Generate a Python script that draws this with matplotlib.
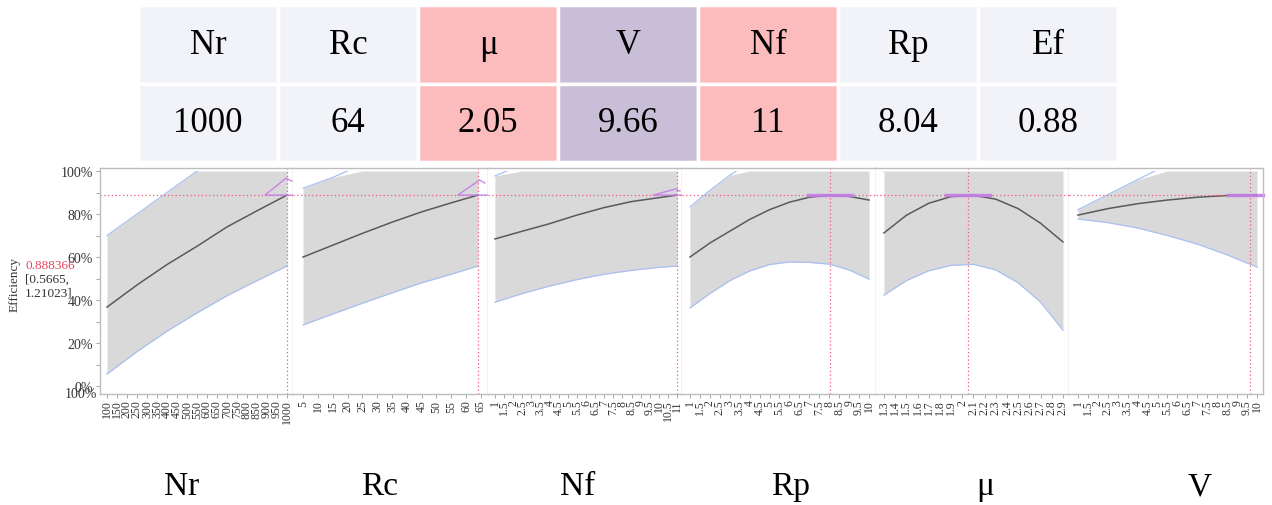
import numpy as np
import matplotlib
matplotlib.use('Agg')
import matplotlib.pyplot as plt
from matplotlib.patches import Rectangle

# table values
names = ['Nr', 'Rc', 'μ', 'V', 'Nf', 'Rp', 'Ef']
values = ['1000', '64', '2.05', '9.66', '11', '8.04', '0.88']
col_colors = ['#f2f3f9', '#f2f3f9', '#fcbcbe', '#c9bed7', '#fcbcbe', '#f2f3f9', '#f2f3f9']

# profiler data: factor levels, predicted efficiency and confidence band
nr_x = [100, 250, 400, 550, 700, 850, 1000]
nr_mean = [0.367, 0.47, 0.565, 0.65, 0.74, 0.815, 0.888]
nr_low = [0.056, 0.16, 0.255, 0.34, 0.42, 0.49, 0.558]
nr_up = [0.70, 0.80, 0.90, 1.0, 1.08, 1.15, 1.21]

rc_x = [5, 15, 25, 35, 45, 55, 64]
rc_mean = [0.60, 0.655, 0.71, 0.762, 0.81, 0.852, 0.888]
rc_low = [0.284, 0.335, 0.385, 0.433, 0.48, 0.52, 0.558]
rc_up = [0.92, 0.97, 1.03, 1.09, 1.14, 1.19, 1.22]

nf_x = [1, 2.5, 4, 5.5, 7, 8.5, 10, 11]
nf_mean = [0.684, 0.72, 0.755, 0.795, 0.83, 0.858, 0.876, 0.888]
nf_low = [0.39, 0.43, 0.465, 0.495, 0.52, 0.538, 0.552, 0.558]
nf_up = [0.977, 1.03, 1.07, 1.11, 1.15, 1.18, 1.20, 1.22]

rp_x = [1, 2, 3, 4, 5, 6, 7, 8, 9, 10]
rp_mean = [0.60, 0.665, 0.72, 0.775, 0.82, 0.855, 0.878, 0.888, 0.882, 0.865]
rp_low = [0.363, 0.43, 0.49, 0.535, 0.565, 0.577, 0.575, 0.567, 0.54, 0.497]
rp_up = [0.833, 0.91, 0.98, 1.04, 1.09, 1.13, 1.17, 1.21, 1.23, 1.24]

mu_x = [1.3, 1.5, 1.7, 1.9, 2.1, 2.3, 2.5, 2.7, 2.9]
mu_mean = [0.712, 0.794, 0.850, 0.881, 0.887, 0.869, 0.825, 0.757, 0.67]
mu_low = [0.423, 0.49, 0.536, 0.561, 0.566, 0.54, 0.48, 0.39, 0.26]
mu_up = [1.0, 1.10, 1.16, 1.20, 1.21, 1.20, 1.17, 1.12, 1.08]

v_x = [1, 2.5, 4, 5.5, 7, 8.5, 10]
v_mean = [0.795, 0.825, 0.848, 0.865, 0.878, 0.886, 0.888]
v_low = [0.777, 0.76, 0.735, 0.70, 0.66, 0.61, 0.553]
v_up = [0.82, 0.89, 0.96, 1.03, 1.10, 1.16, 1.22]

current = [1000, 64, 11, 8.04, 2.05, 9.66]
pred = 0.888366

# desirability traces (purple)
des_x = [[1025, 890, 995, 1025], [67.4, 57.2, 64.6, 66.3], [11.27, 9.68, 10.9, 11.16],
         [6.93, 9.14], [1.854, 2.247], [8.54, 10.3]]
des_y = [[0.888, 0.888, 0.967, 0.953], [0.888, 0.888, 0.958, 0.944], [0.888, 0.888, 0.916, 0.907],
         [0.888, 0.888], [0.888, 0.888], [0.888, 0.888]]

panels = [
    (nr_x, nr_mean, nr_low, nr_up, np.arange(100, 1001, 50), (65, 1030)),
    (rc_x, rc_mean, rc_low, rc_up, np.arange(5, 66, 5), (1.6, 67.4)),
    (nf_x, nf_mean, nf_low, nf_up, np.arange(1, 11.01, 0.5), (0.62, 11.27)),
    (rp_x, rp_mean, rp_low, rp_up, np.arange(1, 10.01, 0.5), (0.6, 10.35)),
    (mu_x, mu_mean, mu_low, mu_up, np.round(np.arange(1.3, 2.91, 0.1), 1), (1.229, 2.954)),
    (v_x, v_mean, v_low, v_up, np.arange(1, 10.01, 0.5), (0.55, 10.3)),
]
bottom_names = ['Nr', 'Rc', 'Nf', 'Rp', 'μ', 'V']
bottom_pos = [182, 380, 578, 791, 985, 1200]

W, H = 1272, 506
serif = 'Liberation Serif'
fig = plt.figure(figsize=(W / 100, H / 100), dpi=100)

# top table
ax_t = fig.add_axes([138 / W, 1 - 163 / H, (1118 - 138) / W, 157 / H])
ax_t.axis('off')
tbl = ax_t.table(cellText=[names, values], cellColours=[col_colors, col_colors],
                 cellLoc='center', bbox=[0, 0, 1, 1])
tbl.auto_set_font_size(False)
for cell in tbl.get_celld().values():
    cell.set_edgecolor('white')
    cell.set_linewidth(2.5)
    cell.get_text().set_fontsize(25)
    cell.get_text().set_fontfamily(serif)

lefts = [100, 293, 488, 682, 876, 1069, 1263]
grid_col = '#bdbdbd'
red = '#f5587a'
for i, (x, m, lo, up, ticks, xl) in enumerate(panels):
    ax = fig.add_axes([lefts[i] / W, 1 - 395 / H, (lefts[i + 1] - lefts[i]) / W, (395 - 169) / H])
    ax.set_xlim(*xl)
    ax.set_ylim(-0.037, 1.014)
    ax.fill_between(x, lo, np.minimum(up, 1.0), color='#d9d9d9', lw=0)
    ax.plot(x, lo, color='#a9c0f2', lw=0.9)
    # upper band edge only shown below 100%
    clip = Rectangle((xl[0], -0.1), xl[1] - xl[0], 1.1, transform=ax.transData)
    up_line, = ax.plot(x, up, color='#a9c0f2', lw=0.9)
    up_line.set_clip_path(clip)
    ax.plot(x, m, color='#5a5a5a', lw=1.1)
    ax.axhline(pred, color=red, ls=(0, (1, 2)), lw=0.9)
    ax.axvline(current[i], color=red, ls=(0, (1, 2)), lw=0.9)
    lw = 1.0 if i < 3 else 2.5
    ax.plot(des_x[i], des_y[i], color='#c27de8', lw=lw, alpha=0.9, clip_on=False)
    ax.set_xticks(ticks)
    ax.set_xticklabels([f'{t:g}' for t in ticks], rotation=90, fontsize=8.5,
                       fontfamily=serif, color='#333333')
    ax.tick_params(axis='x', length=3, width=0.6, color='#999999', pad=1)
    for s in ax.spines.values():
        s.set_color(grid_col)
        s.set_linewidth(1.0)
    if i == 0:
        ax.set_yticks([0, 0.2, 0.4, 0.6, 0.8, 1.0])
        ax.set_yticklabels(['0%', '20%', '40%', '60%', '80%', '100%'], fontsize=10,
                           fontfamily=serif, color='#333333')
        ax.set_yticks(np.arange(0.1, 1.0, 0.2), minor=True)
        ax.tick_params(axis='y', which='both', length=3, width=0.6, color='#999999', pad=2)
        ax.text(-0.015, 0, '100%', transform=ax.transAxes, ha='right', va='center',
                fontsize=10, fontfamily=serif, color='#333333')
    else:
        ax.set_yticks([])
        ax.spines['left'].set_visible(False)

fig.text(15 / W, 1 - 285 / H, 'Efficiency', rotation=90, ha='center', va='center',
         fontsize=9.5, fontfamily=serif, color='#333333')
fig.text(25 / W, 1 - 266 / H, f'{pred:g}', ha='left', va='center',
         fontsize=9.5, fontfamily=serif, color='#e8475f')
fig.text(25 / W, 1 - 280 / H, '[0.5665,', ha='left', va='center',
         fontsize=9.5, fontfamily=serif, color='#333333')
fig.text(25 / W, 1 - 294 / H, '1.21023]', ha='left', va='center',
         fontsize=9.5, fontfamily=serif, color='#333333')

for name, px in zip(bottom_names, bottom_pos):
    fig.text(px / W, 1 - 487 / H, name, ha='center', va='center',
             fontsize=24, fontfamily=serif)

fig.savefig('out.png', dpi=100)
